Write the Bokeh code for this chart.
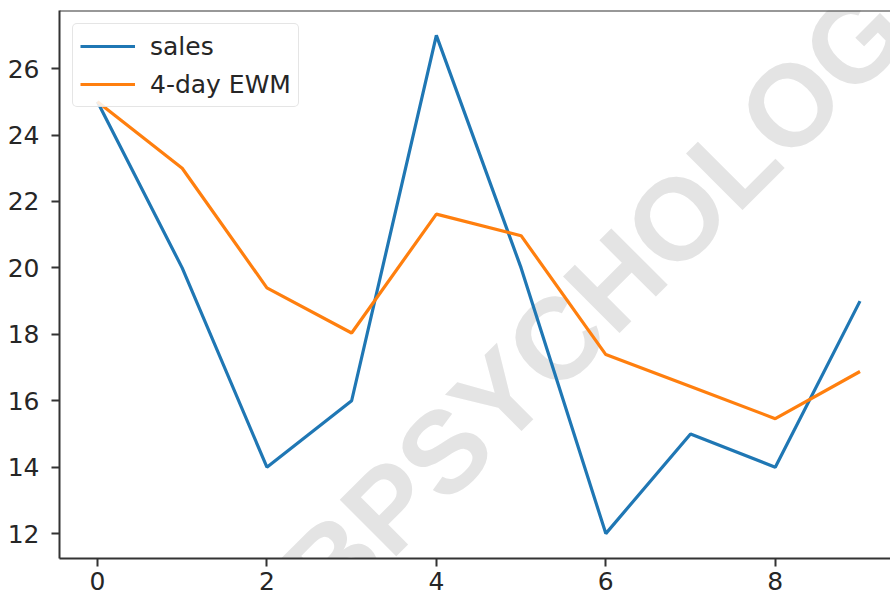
from bokeh.plotting import figure
from bokeh.models import Range1d, FixedTicker, Span, Label, Legend, LegendItem
from bokeh.embed import file_html
from bokeh.resources import INLINE

days = [0, 1, 2, 3, 4, 5, 6, 7, 8, 9]
sales = [25, 20, 14, 16, 27, 20, 12, 15, 14, 19]
ewm_4day = [25.0, 23.0, 19.4, 18.04, 21.62, 20.97, 17.39, 16.43, 15.46, 16.88]
x_ticks = [0, 2, 4, 6, 8]
y_ticks = [12, 14, 16, 18, 20, 22, 24, 26]
series_names = ["sales", "4-day EWM"]
watermark_text = "BPSYCHOLOG"

FONT = "'DejaVu Sans', sans-serif"
FS = "25px"
AX = "#333333"

p = figure(width=890, height=600,
           x_range=Range1d(-0.448, 9.36), y_range=Range1d(11.25, 27.75),
           output_backend="svg", toolbar_location=None,
           min_border_left=59, min_border_right=0, min_border_top=10, min_border_bottom=42)
p.outline_line_color = None
p.xgrid.visible = False
p.ygrid.visible = False
p.background_fill_color = "white"
p.border_fill_color = "white"

# watermark (beneath everything)
wm = Label(x=5.87, y=19.0, text=watermark_text, angle=45, angle_units="deg",
           text_align="center", text_baseline="middle",
           text_font="Liberation Sans", text_font_style="bold", text_font_size="116px",
           text_color="#e4e4e4", level="underlay")
p.add_layout(wm)

for ax in (p.xaxis[0], p.yaxis[0]):
    ax.axis_line_color = AX
    ax.axis_line_width = 2
    ax.major_tick_line_color = AX
    ax.major_tick_line_width = 2
    ax.major_tick_out = 8
    ax.major_tick_in = 0
    ax.minor_tick_out = 0
    ax.minor_tick_in = 0
    ax.major_label_text_font = FONT
    ax.major_label_text_font_size = FS
    ax.major_label_text_color = "#262626"

p.xaxis.ticker = FixedTicker(ticks=x_ticks)
p.yaxis.ticker = FixedTicker(ticks=y_ticks)
p.xaxis.major_label_standoff = 5
p.yaxis.major_label_standoff = 12

top = Span(location=p.y_range.end, dimension="width", line_color=AX, line_width=2)
p.add_layout(top)

r1 = p.line(days, sales, line_color="#1f77b4", line_width=3.2)
r2 = p.line(days, ewm_4day, line_color="#ff7f0e", line_width=3.2)

legend = Legend(items=[LegendItem(label=series_names[0], renderers=[r1]),
                       LegendItem(label=series_names[1], renderers=[r2])],
                location="top_left", margin=13, padding=7, spacing=8,
                glyph_width=55, glyph_height=30, label_height=30, label_standoff=15,
                label_text_font=FONT, label_text_font_size=FS, label_text_color="#262626",
                border_line_color="#cccccc", border_line_width=1.5,
                background_fill_color="white", background_fill_alpha=0.85)
if "border_radius" in Legend.properties():
    legend.border_radius = 5
p.add_layout(legend, "center")

open("out.html", "w").write(file_html(p, INLINE))
